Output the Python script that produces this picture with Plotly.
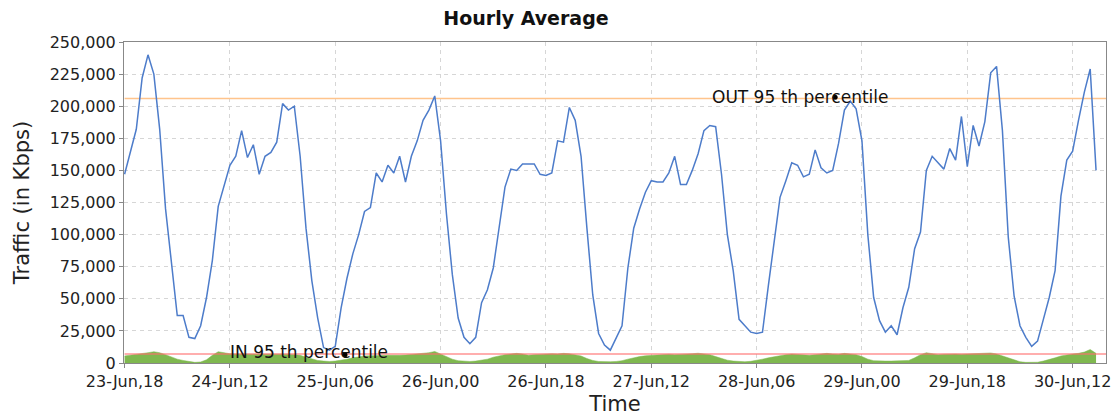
import pandas as pd
import plotly.graph_objects as go

# ---- data (hourly, starting 23-Jun 18:00) ----
start_time = "2014-06-23 18:00"
n_hours = 167
times = pd.date_range(start_time, periods=n_hours, freq="h")

out_kbps = [
    147, 165, 182, 222, 240, 225, 182, 120, 78, 37, 37, 20,
    19, 29, 51, 80, 122, 139, 154, 161, 181, 160, 170, 147,
    161, 164, 172, 202, 197, 200, 161, 105, 64, 35, 12, 10,
    13, 43, 66, 85, 100, 118, 121, 148, 141, 154, 148, 161,
    141, 161, 173, 189, 197, 208, 173, 116, 69, 35, 20, 15,
    20, 47, 57, 74, 105, 137, 151, 150, 155, 155, 155, 147,
    146, 148, 173, 172, 199, 189, 161, 105, 53, 23, 14, 10,
    20, 29, 74, 105, 120, 133, 142, 141, 141, 148, 161, 139,
    139, 150, 163, 181, 185, 184, 147, 100, 72, 34, 29, 24,
    23, 24, 60, 95, 129, 142, 156, 154, 145, 147, 166, 152,
    148, 150, 171, 197, 204, 198, 173, 100, 51, 33, 24, 29,
    22, 43, 59, 89, 102, 150, 161, 156, 151, 167, 158, 192,
    153, 185, 169, 188, 226, 231, 181, 98, 52, 29, 20, 13,
    17, 34, 51, 72, 130, 158, 165, 189, 211, 229, 150,
]
out_kbps = [v * 1000 for v in out_kbps]

in_kbps = [
    5.5, 6.0, 6.5, 7.2, 8.0, 8.8, 8.0, 6.5, 4.5, 3.0, 2.0, 1.0,
    0.5, 0.8, 2.5, 6.0, 8.8, 8.0, 7.2, 7.0, 7.0, 6.8, 7.2, 7.0,
    6.9, 7.0, 7.2, 7.0, 6.8, 6.5, 6.0, 4.5, 3.0, 2.0, 1.5, 1.2,
    1.5, 2.0, 3.0, 4.0, 5.0, 5.5, 5.6, 5.5, 5.8, 6.0, 5.8, 6.0,
    6.2, 6.5, 7.0, 7.5, 8.0, 9.0, 7.0, 5.0, 3.0, 1.8, 1.5, 1.2,
    1.5, 2.0, 3.0, 4.5, 5.8, 6.5, 7.0, 7.5, 7.0, 6.0, 6.5, 6.8,
    7.0, 7.2, 7.0, 7.5, 7.2, 6.5, 5.5, 3.5, 2.0, 1.2, 1.0, 1.0,
    1.2, 1.8, 3.0, 4.2, 5.0, 5.6, 6.0, 6.2, 6.5, 6.8, 6.5, 6.6,
    7.0, 7.2, 7.6, 7.0, 6.5, 5.0, 3.5, 2.2, 1.5, 1.0, 1.0, 1.3,
    2.0, 3.0, 4.0, 5.0, 6.0, 6.5, 7.0, 6.8, 6.2, 6.0, 6.5, 7.0,
    7.5, 7.0, 6.8, 7.5, 7.2, 6.5, 5.0, 3.0, 1.8, 1.5, 1.5, 1.5,
    1.5, 1.6, 2.0, 4.0, 6.5, 8.0, 7.0, 6.5, 6.8, 7.0, 7.0, 6.8,
    7.0, 7.0, 7.2, 7.5, 7.8, 7.0, 5.5, 3.5, 2.0, 1.0, 0.5, 0.3,
    0.6, 1.5, 2.5, 4.0, 5.5, 6.5, 7.0, 7.5, 8.5, 10.5, 7.5,
]
in_kbps = [v * 1000 for v in in_kbps]

out_p95 = 206000
in_p95 = 7000
out_label_start = "2014-06-27 22:00"
in_label_start = "2014-06-24 11:40"
out_dot_time = "2014-06-28 19:25"
in_dot_time = "2014-06-25 07:40"

tick_times = pd.date_range("2014-06-23 18:00", periods=10, freq="18h")
tick_labels = ["23-Jun,18", "24-Jun,12", "25-Jun,06", "26-Jun,00", "26-Jun,18",
               "27-Jun,12", "28-Jun,06", "29-Jun,00", "29-Jun,18", "30-Jun,12"]
y_ticks = list(range(0, 250001, 25000))

x_range = ["2014-06-23 17:54", "2014-06-30 17:42"]

FONT = "DejaVu Sans"

fig = go.Figure()

fig.add_trace(go.Scatter(
    x=times, y=in_kbps, mode="lines", fill="tozeroy",
    line=dict(color="#7fb84f", width=0.5), fillcolor="#7fb84f",
    name="IN", showlegend=False, hoverinfo="skip"))

fig.add_trace(go.Scatter(
    x=[times[0], times[-1] + pd.Timedelta(hours=2)], y=[in_p95, in_p95],
    mode="lines", line=dict(color="#ff7070", width=1.6), opacity=0.75,
    showlegend=False, hoverinfo="skip"))

fig.add_trace(go.Scatter(
    x=[times[0], times[-1] + pd.Timedelta(hours=2)], y=[out_p95, out_p95],
    mode="lines", line=dict(color="#ffc48c", width=1.6),
    showlegend=False, hoverinfo="skip"))

fig.add_trace(go.Scatter(
    x=times, y=out_kbps, mode="lines",
    line=dict(color="#4d7cca", width=1.5),
    name="OUT", showlegend=False))

fig.add_trace(go.Scatter(
    x=[out_dot_time, in_dot_time], y=[out_p95 + 1000, in_p95 - 500],
    mode="markers", marker=dict(color="black", size=5),
    showlegend=False, hoverinfo="skip"))

fig.add_annotation(x=out_label_start, y=out_p95, text="OUT 95 th percentile",
                   showarrow=False, xanchor="left", yanchor="middle", yshift=2,
                   font=dict(family=FONT, size=17, color="#111"))
fig.add_annotation(x=in_label_start, y=in_p95, text="IN 95 th percentile",
                   showarrow=False, xanchor="left", yanchor="middle", yshift=2,
                   font=dict(family=FONT, size=17, color="#111"))

grid = dict(showgrid=True, gridcolor="#d6d6d6", gridwidth=1, griddash="4px,4px")

fig.update_layout(
    template="none",
    width=1120, height=416,
    margin=dict(l=124, r=14, t=42, b=53, autoexpand=False),
    paper_bgcolor="white", plot_bgcolor="white",
    font=dict(family=FONT, size=16, color="#222"),
    title=dict(text="<b>Hourly Average</b>", x=526 / 1120, xref="container",
               y=1 - 18 / 416, yref="container", xanchor="center", yanchor="middle",
               font=dict(family=FONT, size=19, color="#111")),
    xaxis=dict(range=x_range, tickvals=tick_times, ticktext=tick_labels,
               ticks="outside", ticklen=4, tickcolor="#888",
               showline=True, linecolor="#888", linewidth=1, mirror=True,
               zeroline=False, automargin=False,
               title=dict(text="Time", font=dict(family=FONT, size=21, color="#222"), standoff=8),
               tickfont=dict(family=FONT, size=16, color="#222"), **grid),
    yaxis=dict(range=[0, 250000], tickvals=y_ticks, tickformat=",",
               ticks="outside", ticklen=4, tickcolor="#888",
               showline=True, linecolor="#888", linewidth=1, mirror=True,
               zeroline=False, automargin=False,
               title=dict(text="Traffic (in Kbps)", font=dict(family=FONT, size=21, color="#222"), standoff=14),
               tickfont=dict(family=FONT, size=16, color="#222"), **grid),
)

fig.write_html("out.html", config={"displayModeBar": False},
               post_script="document.body.style.margin='0';document.body.style.overflow='hidden';")
